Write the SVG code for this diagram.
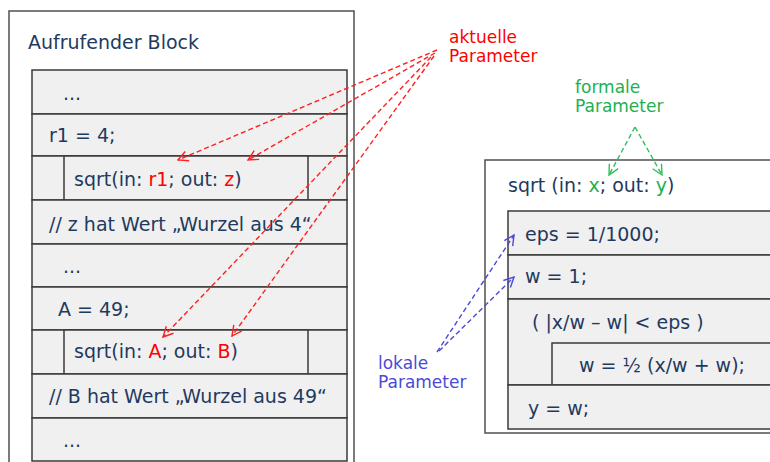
<svg xmlns="http://www.w3.org/2000/svg" width="770" height="462" viewBox="0 0 770 462">
<defs>
<style>
.frame{fill:#fff;stroke:#505050;stroke-width:1.5}
.row{fill:#f0f0f0;stroke:#3a3a3a;stroke-width:1.5}
.t{font-family:"DejaVu Sans",Verdana,sans-serif;font-size:19px;fill:#1f3a5f}
.lbl{font-family:"DejaVu Sans",Verdana,sans-serif;font-size:17px}
.red{fill:#ff0000}
.grn{fill:#22b04e}
.blu{fill:#4a4ad8}
.ar{fill:none;stroke:#ff2020;stroke-width:1.4;stroke-dasharray:5 3}
.ag{fill:none;stroke:#2fbf5c;stroke-width:1.4;stroke-dasharray:5 3}
.ab{fill:none;stroke:#4a4ad8;stroke-width:1.4;stroke-dasharray:5 3}
</style>
<marker id="mr" viewBox="0 0 12 12" refX="11" refY="6" markerWidth="12" markerHeight="12" markerUnits="userSpaceOnUse" orient="auto"><path d="M1,1 L11,6 L1,11" fill="none" stroke="#ff2020" stroke-width="1.4"/></marker>
<marker id="mg" viewBox="0 0 12 12" refX="11" refY="6" markerWidth="12" markerHeight="12" markerUnits="userSpaceOnUse" orient="auto"><path d="M1,1 L11,6 L1,11" fill="none" stroke="#2fbf5c" stroke-width="1.4"/></marker>
<marker id="mb" viewBox="0 0 12 12" refX="11" refY="6" markerWidth="12" markerHeight="12" markerUnits="userSpaceOnUse" orient="auto"><path d="M1,1 L11,6 L1,11" fill="none" stroke="#4a4ad8" stroke-width="1.4"/></marker>
</defs>
<rect width="770" height="462" fill="#fff"/>

<g id="caller">
<rect class="frame" x="9" y="11" width="345" height="460"/>
<text class="t" x="28" y="49">Aufrufender Block</text>
<g id="c-row1"><rect class="row" x="32" y="70" width="315" height="44"/><text class="t" x="63" y="100">...</text></g>
<g id="c-row2"><rect class="row" x="32" y="114" width="315" height="42"/><text class="t" x="49" y="142">r1 = 4;</text></g>
<g id="c-row3"><rect class="row" x="32" y="156" width="315" height="44"/><rect class="row" x="64" y="156" width="244" height="44"/><text class="t" x="74" y="186">sqrt(in: <tspan class="red">r1</tspan>; out: <tspan class="red">z</tspan>)</text></g>
<g id="c-row4"><rect class="row" x="32" y="200" width="315" height="44"/><text class="t" x="49" y="231">// z hat Wert „Wurzel aus 4“</text></g>
<g id="c-row5"><rect class="row" x="32" y="244" width="315" height="43"/><text class="t" x="63" y="273">...</text></g>
<g id="c-row6"><rect class="row" x="32" y="287" width="315" height="43"/><text class="t" x="58" y="316">A = 49;</text></g>
<g id="c-row7"><rect class="row" x="32" y="330" width="315" height="44"/><rect class="row" x="64" y="330" width="244" height="44"/><text class="t" x="74" y="358">sqrt(in: <tspan class="red">A</tspan>; out: <tspan class="red">B</tspan>)</text></g>
<g id="c-row8"><rect class="row" x="32" y="374" width="315" height="44"/><text class="t" x="49" y="403">// B hat Wert „Wurzel aus 49“</text></g>
<g id="c-row9"><rect class="row" x="32" y="418" width="315" height="43"/><text class="t" x="63" y="447">...</text></g>
</g>

<g id="callee">
<rect class="frame" x="485" y="160" width="300" height="273"/>
<text class="t" x="508" y="192">sqrt (in: <tspan class="grn">x</tspan>; out: <tspan class="grn">y</tspan>)</text>
<g id="s-row1"><rect class="row" x="508" y="211" width="280" height="44"/><text class="t" x="525" y="241">eps = 1/1000;</text></g>
<g id="s-row2"><rect class="row" x="508" y="255" width="280" height="44"/><text class="t" x="525" y="283">w = 1;</text></g>
<g id="s-row3"><rect class="row" x="508" y="299" width="280" height="86"/><text class="t" x="532" y="329">( |x/w – w| &lt; eps )</text><rect class="row" x="552" y="343" width="236" height="42"/><text class="t" x="579" y="372">w = ½ (x/w + w);</text></g>
<g id="s-row4"><rect class="row" x="508" y="385" width="280" height="44"/><text class="t" x="528" y="415">y = w;</text></g>
</g>

<g id="label-aktuell"><text class="lbl red" x="449" y="43">aktuelle</text><text class="lbl red" x="449" y="62">Parameter</text></g>
<g id="label-formal"><text class="lbl grn" x="575" y="93">formale</text><text class="lbl grn" x="575" y="112">Parameter</text></g>
<g id="label-lokal"><text class="lbl blu" x="378" y="369">lokale</text><text class="lbl blu" x="378" y="388">Parameter</text></g>

<g id="connectors">
<path class="ar" d="M437,50 L178,160" marker-end="url(#mr)"/>
<path class="ar" d="M435,53 L248,160" marker-end="url(#mr)"/>
<path class="ar" d="M431,57 L163,337" marker-end="url(#mr)"/>
<path class="ar" d="M434,56 L232,336" marker-end="url(#mr)"/>
<path class="ag" d="M635,127 L609,175" marker-end="url(#mg)"/>
<path class="ag" d="M635,127 L662,175" marker-end="url(#mg)"/>
<path class="ab" d="M437,352 L514,235" marker-end="url(#mb)"/>
<path class="ab" d="M439,351 L514,277" marker-end="url(#mb)"/>
</g>
</svg>
